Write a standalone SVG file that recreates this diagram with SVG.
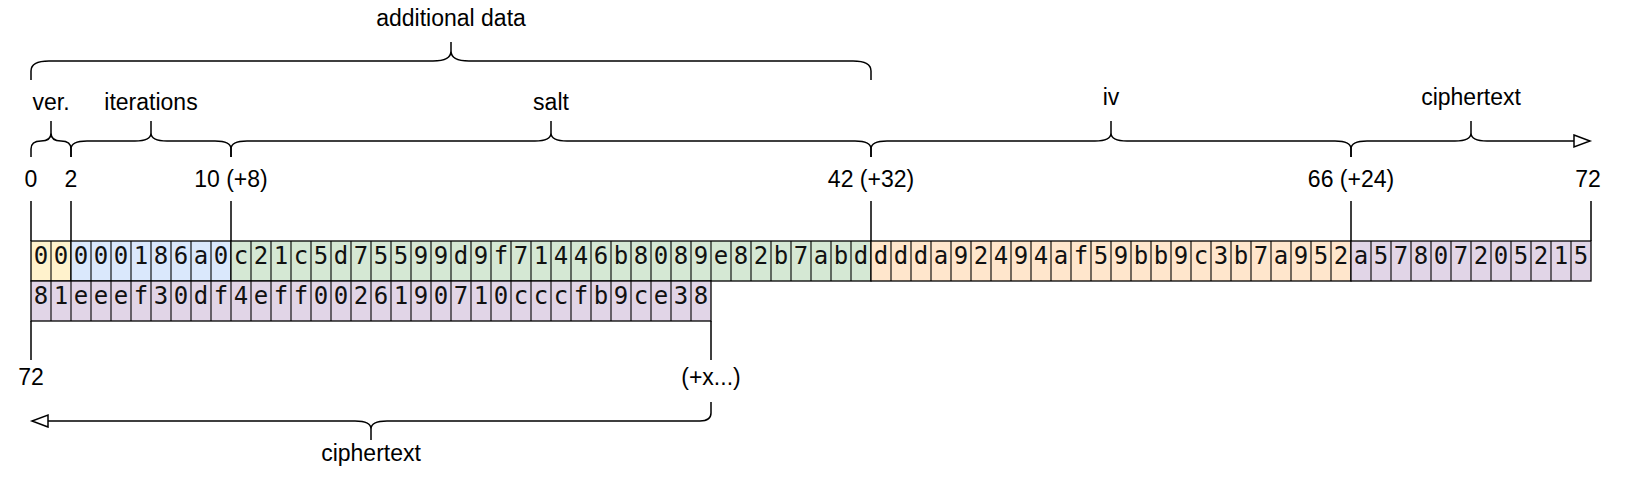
<svg xmlns="http://www.w3.org/2000/svg" width="1632" height="478" viewBox="0 0 1632 478">
<style>
.lbl{font-family:"Liberation Sans",Arial,Helvetica,sans-serif;font-size:23px;fill:#000;text-anchor:middle}
.hex{font-family:"DejaVu Sans Mono","Liberation Mono",monospace;font-size:24px;fill:#111;text-anchor:middle}
.cellbox{stroke:#000;stroke-width:1.3}
.sep{fill:none;stroke:#000;stroke-width:1.1}
.brace{fill:none;stroke:#000;stroke-width:1.5}
.tick{fill:none;stroke:#000;stroke-width:1.5}
.ver{fill:#fff2cc}.iter{fill:#dae8fc}.salt{fill:#d5e8d4}.iv{fill:#ffe6cc}.ct{fill:#e1d5e7}
</style>
<defs>
<marker id="openArrow" markerUnits="userSpaceOnUse" viewBox="0 0 20 14" markerWidth="20" markerHeight="14" refX="17" refY="7" orient="auto" overflow="visible">
<path d="M1,1 L17,7 L1,13 z" fill="#fff" stroke="#000" stroke-width="1.5"/>
</marker>
</defs>
<rect x="0" y="0" width="1632" height="478" fill="#fff"/>

<g id="connectors">
<path class="brace" d="M31,80 V71 Q31,61 49,61 H433 Q451,61 451,51 V42 M451,51 Q451,61 469,61 H853 Q871,61 871,71 V80"/>
<path class="brace" d="M31,157 V149 Q31,141 41,141 Q51,141 51,133 V121 M51,133 Q51,141 61,141 Q71,141 71,149 V157"/>
<path class="brace" d="M71,157 V149 Q71,141 87,141 H135 Q151,141 151,133 V121 M151,133 Q151,141 167,141 H215 Q231,141 231,149 V157"/>
<path class="brace" d="M231,157 V149 Q231,141 247,141 H535 Q551,141 551,133 V121 M551,133 Q551,141 567,141 H855 Q871,141 871,149 V157"/>
<path class="brace" d="M871,157 V149 Q871,141 887,141 H1095 Q1111,141 1111,133 V121 M1111,133 Q1111,141 1127,141 H1335 Q1351,141 1351,149 V157"/>
<path class="brace" marker-end="url(#openArrow)" d="M1351,157 V149 Q1351,141 1367,141 H1455 Q1471,141 1471,133 V121 M1471,133 Q1471,141 1487,141 H1590"/>
<path class="brace" marker-end="url(#openArrow)" d="M711,402 V413 Q711,421 700,421 H387 Q371,421 371,429 V440 M371,429 Q371,421 355,421 H32"/>
<path class="tick" d="M31,201 V241 M71,201 V241 M231,201 V241 M871,201 V241 M1351,201 V241 M1591,201 V241 M31,321 V360 M711,321 V360"/>
</g>

<g id="labels">
<text class="lbl" x="451" y="26">additional data</text>
<text class="lbl" x="51" y="110">ver.</text>
<text class="lbl" x="151" y="110">iterations</text>
<text class="lbl" x="551" y="110">salt</text>
<text class="lbl" x="1111" y="105">iv</text>
<text class="lbl" x="1471" y="105">ciphertext</text>
<text class="lbl" x="31" y="187">0</text>
<text class="lbl" x="71" y="187">2</text>
<text class="lbl" x="231" y="187">10 (+8)</text>
<text class="lbl" x="871" y="187">42 (+32)</text>
<text class="lbl" x="1351" y="187">66 (+24)</text>
<text class="lbl" x="1588" y="187">72</text>
<text class="lbl" x="31" y="385">72</text>
<text class="lbl" x="711" y="385">(+x...)</text>
<text class="lbl" x="371" y="461">ciphertext</text>
</g>

<g id="ver">
<rect class="cellbox ver" x="31" y="241" width="40" height="40"/>
<path class="sep" d="M51,241v40"/>
<text class="hex" x="41 61" y="263.5">00</text>
</g>

<g id="iterations">
<rect class="cellbox iter" x="71" y="241" width="160" height="40"/>
<path class="sep" d="M91,241v40m20,-40v40m20,-40v40m20,-40v40m20,-40v40m20,-40v40m20,-40v40"/>
<text class="hex" x="81 101 121 141 161 181 201 221" y="263.5">000186a0</text>
</g>

<g id="salt">
<rect class="cellbox salt" x="231" y="241" width="640" height="40"/>
<path class="sep" d="M251,241v40m20,-40v40m20,-40v40m20,-40v40m20,-40v40m20,-40v40m20,-40v40m20,-40v40m20,-40v40m20,-40v40m20,-40v40m20,-40v40m20,-40v40m20,-40v40m20,-40v40m20,-40v40m20,-40v40m20,-40v40m20,-40v40m20,-40v40m20,-40v40m20,-40v40m20,-40v40m20,-40v40m20,-40v40m20,-40v40m20,-40v40m20,-40v40m20,-40v40m20,-40v40m20,-40v40"/>
<text class="hex" x="241 261 281 301 321 341 361 381 401 421 441 461 481 501 521 541 561 581 601 621 641 661 681 701 721 741 761 781 801 821 841 861" y="263.5">c21c5d75599d9f71446b8089e82b7abd</text>
</g>

<g id="iv">
<rect class="cellbox iv" x="871" y="241" width="480" height="40"/>
<path class="sep" d="M891,241v40m20,-40v40m20,-40v40m20,-40v40m20,-40v40m20,-40v40m20,-40v40m20,-40v40m20,-40v40m20,-40v40m20,-40v40m20,-40v40m20,-40v40m20,-40v40m20,-40v40m20,-40v40m20,-40v40m20,-40v40m20,-40v40m20,-40v40m20,-40v40m20,-40v40m20,-40v40"/>
<text class="hex" x="881 901 921 941 961 981 1001 1021 1041 1061 1081 1101 1121 1141 1161 1181 1201 1221 1241 1261 1281 1301 1321 1341" y="263.5">ddda92494af59bb9c3b7a952</text>
</g>

<g id="ciphertext-1">
<rect class="cellbox ct" x="1351" y="241" width="240" height="40"/>
<path class="sep" d="M1371,241v40m20,-40v40m20,-40v40m20,-40v40m20,-40v40m20,-40v40m20,-40v40m20,-40v40m20,-40v40m20,-40v40m20,-40v40"/>
<text class="hex" x="1361 1381 1401 1421 1441 1461 1481 1501 1521 1541 1561 1581" y="263.5">a57807205215</text>
</g>

<g id="ciphertext-2">
<rect class="cellbox ct" x="31" y="281" width="680" height="40"/>
<path class="sep" d="M51,281v40m20,-40v40m20,-40v40m20,-40v40m20,-40v40m20,-40v40m20,-40v40m20,-40v40m20,-40v40m20,-40v40m20,-40v40m20,-40v40m20,-40v40m20,-40v40m20,-40v40m20,-40v40m20,-40v40m20,-40v40m20,-40v40m20,-40v40m20,-40v40m20,-40v40m20,-40v40m20,-40v40m20,-40v40m20,-40v40m20,-40v40m20,-40v40m20,-40v40m20,-40v40m20,-40v40m20,-40v40m20,-40v40"/>
<text class="hex" x="41 61 81 101 121 141 161 181 201 221 241 261 281 301 321 341 361 381 401 421 441 461 481 501 521 541 561 581 601 621 641 661 681 701" y="303.5">81eeef30df4eff0026190710cccfb9ce38</text>
</g>
</svg>
